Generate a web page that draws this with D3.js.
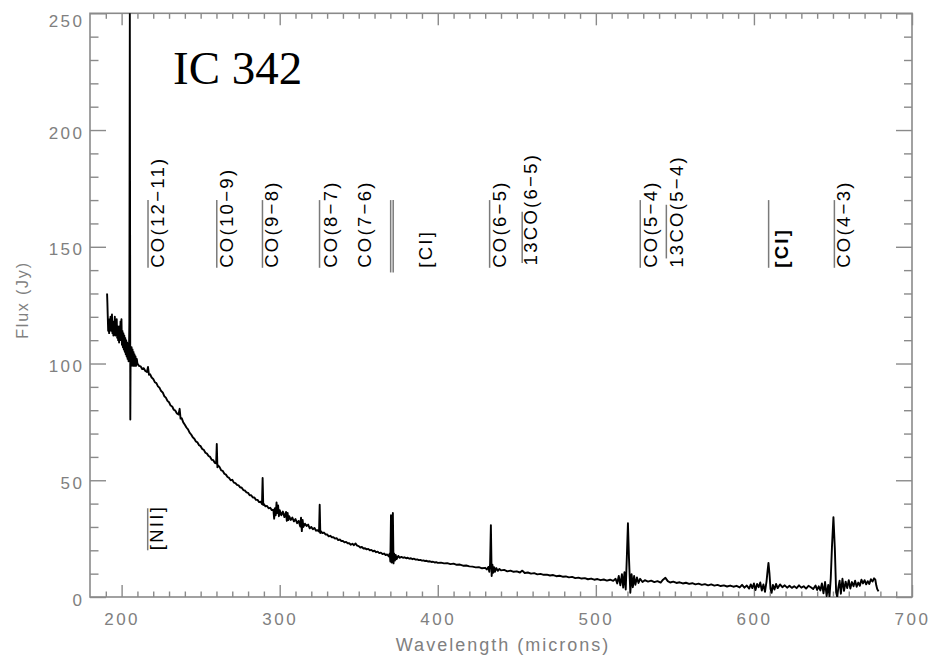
<!doctype html>
<html>
<head>
<meta charset="utf-8">
<script src="https://d3js.org/d3.v7.min.js"></script>
<style>
  body { margin: 0; background: #fff; }
  svg { display: block; }
  .tick text { font-family: "Liberation Sans", Arial, sans-serif; font-size: 17px; fill: #808080; letter-spacing: 2.5px; }
  .tick line { stroke: #8a8a8a; stroke-width: 1.4px; }
</style>
</head>
<body>
<div id="chart"></div>
<script>
// spectrum, [wavelength (microns), flux (Jy)]
var spec190 = [[190.8,130],[191.0,126],[191.2,121],[191.5,114],[191.8,118],[192.1,113],[192.4,119],[192.7,116],[193.0,120],[193.3,114],[193.6,119],[193.9,121],[194.2,113],[194.5,118],[194.8,112],[195.1,117],[195.4,115],[195.7,120],[196.0,112],[196.3,117],[196.6,113],[196.9,119],[197.2,111],[197.5,116],[197.8,110],[198.1,115],[198.4,109],[198.7,116],[199.0,110],[199.3,118],[199.6,112],[199.9,119],[200.2,108],[200.5,114],[200.8,107],[201.1,113],[201.4,106],[201.7,112],[202.0,105],[202.3,111],[202.6,104],[202.9,110],[203.2,103],[203.5,109],[203.8,102],[204.1,108],[204.4,101],[204.7,107],[204.9,118],[205.2,250],[205.5,76],[205.7,104],[206.0,99],[206.3,107],[206.6,100],[206.9,106],[207.2,99],[207.5,105],[207.8,99],[208.1,104],[208.4,99],[208.8,103],[209.2,99],[209.6,102],[210.0,100]];
var spec210 = [[211,99],[212,98.8],[213,97.6],[214,98.0],[215,96.8],[216,96.4],[216.7,98.5],[217.3,95.2],[218,95.4],[219,94.0],[220,93.4],[221,92.0],[222,91.6],[223,90.2],[224,89.6],[225,88.2],[226,87.6],[227,86.0],[228,85.4],[229,84.0],[230,83.4],[231,82.0],[232,81.6],[233,80.2],[234,79.8],[235,78.6],[236,78.2],[236.7,80.6],[237.3,76.4],[238,76.6],[239,74.8],[240,73.8],[241,72.6],[242,71.8],[243,70.4],[244,69.6],[245,68.4],[246,67.8],[247,66.6],[248,66.2],[249,65.0],[250,64.6],[251,63.4],[252,63.0],[253,61.8],[254,61.4],[255,60.4],[256,60.0],[257,58.8],[258,58.6],[259,57.4],[259.8,57.2],[260.2,65.5],[260.6,55.6],[261,56.4],[262,55.6],[263,54.2],[264,54.0],[265,52.8],[266,52.4],[267,51.4],[268,51.0],[269,50.0],[270,50.2],[271,49.0],[272,48.8],[273,48.0],[274,47.8],[275,47.0],[276,46.8],[277,45.8],[278,45.6],[279,44.8],[280,44.6],[281,43.6],[282,43.6],[283,42.6],[284,42.6],[285,41.6],[286,41.6],[287,40.6],[288,40.8],[288.8,39.8],[289.2,51.0],[289.6,39.4],[290,39.8],[291,38.8],[292,39.0],[293,38.0],[294,38.2],[295,37.2]];
var spec296 = [[296,37.4],[296.5,33.5],[297,38.0],[297.5,35.0],[298,40.5],[298.5,36.0],[299,39.2],[299.5,34.6],[300,37.2],[301,35.0],[302,36.6],[303,34.2],[304,36.4],[304.5,32.6],[305,36.0],[305.5,33.0],[306,34.6],[307,33.0],[308,34.0],[309,32.4],[310,33.4],[311,31.6],[312,32.6],[313,30.2],[313.5,34.0],[314,28.2],[314.5,33.0],[315,30.0],[316,31.4],[317,30.4],[318,31.0],[319,29.4],[320,30.0],[321,29.0],[322,29.6],[323,28.4],[324,28.6],[324.9,28.0],[325.3,39.5],[325.7,27.4],[326,28.2],[327,27.4],[328,27.6],[329,26.8],[330,26.8],[331,26.0],[332,26.2],[333,25.6],[334,25.6],[335,25.0],[336,25.2],[337,24.4],[338,24.6],[339,24.0],[340,24.0],[341,23.4],[342,23.6],[343,23.0],[344,23.0],[345,22.4],[346,22.8],[347,22.2],[348,22.9],[349,22.0],[350,21.8],[351,21.2],[352,21.4],[353,20.8],[354,20.9],[355,20.4],[356,20.6],[357,20.0],[358,20.2],[359,19.6],[360,19.8],[361,19.2],[362,19.4],[363,18.8],[364,19.0],[365,18.4],[366,18.6],[367,18.0],[368,18.2],[369,17.4],[369.6,18.6],[370.0,15.2],[370.4,35.0],[370.8,14.8],[371.1,18.8],[371.6,36.0],[372.0,14.4],[372.4,18.6],[372.9,15.6],[373.4,18.0],[374,16.2],[375,17.6],[376,16.8],[377,17.2],[378,16.8],[379,17.0],[380,16.6],[381,16.8],[382,16.4],[383,16.6],[384,16.2],[385,16.4],[386,16.0],[387,16.1],[388,15.8],[389,15.9],[390,15.6],[391,15.7],[392,15.4],[393,15.5],[394,15.2],[395,15.3],[396,15.0],[397,15.1],[398,14.8],[399,14.9],[400,14.6],[402,14.7],[404,14.4],[406,14.5],[408,14.1],[410,14.3],[412,13.8],[414,13.9],[416,13.4],[418,13.5],[420,13.1],[422,13.0],[424,12.7],[426,12.8],[428,12.3],[430,12.5],[431,11.8],[432,12.9],[432.6,10.8],[433.1,14.2],[433.6,30.8],[434.1,9.0],[434.6,13.8],[435.1,10.4],[435.6,12.8],[436.2,10.8],[437,12.4],[438,11.2],[439,12.0],[440,11.4]];
var spec441 = [[442,11.6],[444,11.0],[446,11.3],[448,10.8],[450,11.0],[452,10.5],[453.5,11.3],[455,10.3],[457,10.5],[459,10.0],[461,10.2],[463,9.7],[465,9.9],[467,9.5],[469,9.6],[471,9.2],[473,9.4],[475,8.9],[477,9.1],[479,8.7],[481,8.8],[483,8.4],[485,8.6],[487,8.1],[489,8.3],[491,7.9],[493,8.1],[495,7.6],[497,7.9],[499,7.4],[501,7.7],[503,7.2],[505,7.5],[507,7.0],[509,7.4],[511,6.9],[512.5,7.8],[513.5,5.8],[514.5,9.0],[515.5,5.0],[516.5,9.8],[517.3,4.0],[518.1,10.6],[518.9,3.2],[519.6,17.0],[520.3,31.6],[521.0,16.0],[521.8,1.8],[522.6,9.8],[523.4,4.2],[524.2,9.0],[525,5.2],[526,8.4],[527,6.0],[528,7.8],[529.5,6.4],[531,7.2],[533,6.6],[535,7.0],[537,6.4],[539,6.8],[541,6.2],[542.5,7.4],[544,8.2],[545.5,6.8],[547,6.2],[549,6.6],[551,6.0],[553,6.3],[555,5.8],[557,6.1],[559,5.6],[561,5.9],[563,5.4],[565,5.7],[567,5.2],[569,5.5],[571,5.0],[573,5.4],[575,4.9],[577,5.2],[579,4.7],[581,5.0],[583,4.5],[585,4.9],[587,4.4],[589,4.8],[591,4.1],[592.5,5.2],[594,4.0],[595.5,4.9],[597,3.6],[598,5.4],[599,3.8],[600,5.8],[601,3.0],[602,5.6],[603,4.2],[604,6.2],[605,2.8],[606,5.4],[607,2.2],[608,6.8],[608.6,11.0],[609.2,14.6],[609.8,10.4],[610.5,3.4],[611.2,1.8],[612,5.2],[613,3.2],[614,5.6],[615,3.8],[616.5,5.4],[618,4.2],[619.5,5.0],[621,4.0],[622.5,4.8],[624,3.9],[625.5,4.6],[627,3.8],[628.5,5.0],[630,4.0],[631.5,4.6],[633,3.6],[634.5,4.8],[636,4.2],[637.5,3.4],[639,4.9],[640,3.0],[641,4.6],[642,2.8],[643,5.8],[644,1.6],[645,6.4],[646,0.4],[647,5.2],[647.8,0.2],[648.6,8.0],[649.4,22.0],[650.3,34.2],[651.2,20.5],[652,2.0],[652.7,0.0],[653.4,4.0],[654.2,7.0],[655,1.4],[656,7.8],[657,2.6],[658,6.6],[659,3.8],[660,7.2],[661,3.6],[662,6.4],[663,4.6],[664,7.0],[665,4.4],[666,6.2],[667,4.8],[668,7.4],[669,5.8],[670,7.2],[671,5.4],[672,6.8],[673,5.6],[674,7.6],[675,6.6],[676,8.0],[676.8,7.4],[677.4,5.0],[678,3.4],[678.8,2.4]];

// line identifications
var lineNames = ["CO(12\u221211)", "CO(10\u22129)", "CO(9\u22128)", "CO(8\u22127)", "CO(7\u22126)", "[CI]", "CO(6\u22125)", "13CO(6\u22125)", "CO(5\u22124)", "13CO(5\u22124)", "[CI]", "CO(4\u22123)", "[NII]"];
var labelAt   = [222.4, 266.1, 294.6, 331.9, 353.7, 392.0, 439.2, 458.5, 534.4, 550.9, 617.3, 656.6, 222.0]; // microns
var labelBase = [141, 141, 141, 141, 141, 141, 141, 142, 141, 141, 141, 141, 20];                  // Jy

// marker bars
var markerAt   = [216.5, 216.7, 260.2, 289.1, 325.2, 370.2, 371.8, 432.8, 453.4, 528.1, 544.6, 609.3, 650.9];
var markerLow  = [20, 141, 141, 141, 141, 139, 139, 141, 143, 141, 145, 141, 141];
var markerHigh = [38, 170, 170, 170, 170, 170, 170, 170, 165, 170, 168, 170, 170];

var xTicks = [200, 300, 400, 500, 600, 700];
var yTicks = [0, 50, 100, 150, 200, 250];

var width = 932, height = 657;
var plotL = 90, plotR = 912, plotT = 13.3, plotB = 597;

var svg = d3.select("#chart").append("svg")
    .attr("width", width)
    .attr("height", height);

var x = d3.scaleLinear().domain([180, 700]).range([plotL, plotR]);
var y = d3.scaleLinear().domain([0, 250]).range([plotB, plotT]);

svg.append("clipPath").attr("id", "clip")
  .append("rect")
    .attr("x", plotL).attr("y", plotT)
    .attr("width", plotR - plotL).attr("height", plotB - plotT);

// axes: major + minor ticks, all pointing inwards
var minorX = d3.range(190, 700, 10).filter(function(d) { return d % 100 != 0; });
var minorY = d3.range(10, 250, 10).filter(function(d) { return d % 50 != 0; });

function axisGroup(axis, tx, ty) {
  var g = svg.append("g").attr("transform", "translate(" + tx + "," + ty + ")").call(axis);
  g.select(".domain").remove();
  return g;
}

axisGroup(d3.axisBottom(x).tickValues(xTicks).tickSize(-12).tickPadding(16), 0, plotB);
axisGroup(d3.axisBottom(x).tickValues(minorX).tickSize(-5.5).tickFormat(""), 0, plotB);
axisGroup(d3.axisTop(x).tickValues(xTicks).tickSize(-12).tickFormat(""), 0, plotT);
axisGroup(d3.axisTop(x).tickValues(minorX).tickSize(-5.5).tickFormat(""), 0, plotT);

var yl = axisGroup(d3.axisLeft(y).tickValues(yTicks).tickSize(-16).tickPadding(5.5), plotL, 0);
yl.selectAll("text").attr("dy", function(d) { return d == 250 ? "0.8em" : "0.47em"; });
axisGroup(d3.axisLeft(y).tickValues(minorY).tickSize(-8.5).tickFormat(""), plotL, 0);
axisGroup(d3.axisRight(y).tickValues(yTicks).tickSize(-16).tickFormat(""), plotR, 0);
axisGroup(d3.axisRight(y).tickValues(minorY).tickSize(-8).tickFormat(""), plotR, 0);

svg.append("rect")
    .attr("x", plotL).attr("y", plotT)
    .attr("width", plotR - plotL).attr("height", plotB - plotT)
    .attr("fill", "none")
    .attr("stroke", "#8a8a8a")
    .attr("stroke-width", 1.6);

// axis titles
svg.append("text")
    .attr("x", (plotL + plotR) / 2 + 2)
    .attr("y", 651)
    .attr("text-anchor", "middle")
    .style("font-family", "Liberation Sans, Arial, sans-serif")
    .style("font-size", "18px")
    .style("letter-spacing", "2px")
    .style("fill", "#808080")
    .text("Wavelength (microns)");

svg.append("text")
    .attr("transform", "translate(28,300) rotate(-90)")
    .attr("text-anchor", "middle")
    .style("font-family", "Liberation Sans, Arial, sans-serif")
    .style("font-size", "16px")
    .style("letter-spacing", "1.8px")
    .style("fill", "#808080")
    .text("Flux (Jy)");

// spectrum
var spectrum = spec190.concat(spec210, spec296, spec441);
var line = d3.line()
    .x(function(d) { return x(d[0]); })
    .y(function(d) { return y(d[1]); });

svg.append("path")
    .datum(spectrum)
    .attr("clip-path", "url(#clip)")
    .attr("fill", "none")
    .attr("stroke", "#000")
    .attr("stroke-width", 1.9)
    .attr("stroke-linejoin", "round")
    .attr("d", line);

// line markers
svg.selectAll(".marker")
  .data(markerAt)
  .enter().append("line")
    .attr("class", "marker")
    .attr("x1", function(d) { return x(d); })
    .attr("x2", function(d) { return x(d); })
    .attr("y1", function(d, i) { return y(markerLow[i]); })
    .attr("y2", function(d, i) { return y(markerHigh[i]); })
    .attr("stroke", "#7a7a7a")
    .attr("stroke-width", 1.5);

// line labels
svg.selectAll(".label")
  .data(lineNames)
  .enter().append("text")
    .attr("class", "label")
    .attr("transform", function(d, i) {
      return "translate(" + x(labelAt[i]) + "," + y(labelBase[i]) + ") rotate(-90)";
    })
    .attr("dy", "0.36em")
    .style("font-family", "Liberation Sans, Arial, sans-serif")
    .style("font-size", "18.5px")
    .style("letter-spacing", "2.3px")
    .style("font-weight", function(d, i) { return i == 10 ? "bold" : "normal"; })
    .style("fill", "#000")
    .text(function(d) { return d; });

// title
svg.append("text")
    .attr("x", 173)
    .attr("y", 84)
    .style("font-family", "Liberation Serif, 'Times New Roman', serif")
    .style("font-size", "47px")
    .style("fill", "#000")
    .text("IC 342");
</script>
</body>
</html>
